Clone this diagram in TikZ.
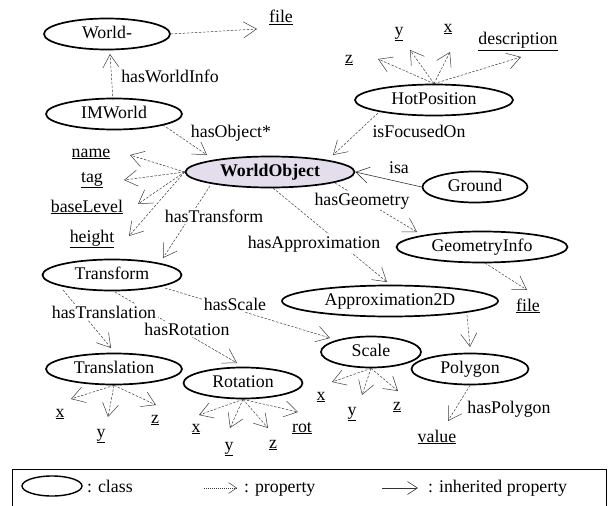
\documentclass[tikz,border=0pt]{standalone}
\usepackage{fontspec}
\setmainfont{Liberation Serif}
\usetikzlibrary{shapes.geometric,arrows.meta}
\definecolor{objfill}{RGB}{228,222,236}
\definecolor{propgray}{RGB}{60,60,60}
\newcommand{\dfont}{\fontsize{17.8}{20}\selectfont}
\begin{document}
\begin{tikzpicture}[x=1pt,y=-1pt,
  every node/.style={font=\dfont},
  cls/.style={draw, ellipse, line width=1.7pt, inner sep=0pt,
              text height=12pt, text depth=4pt, minimum height=31pt},
  leaf/.style={anchor=base, inner sep=1pt},
  lbl/.style={anchor=base, fill=white, inner sep=1.5pt},
  prop/.style={draw=propgray, line width=0.5pt, dash pattern=on 2.5pt off 1.5pt,
               -{Straight Barb[length=13pt,width=16pt]}},
  inh/.style={draw=black!80, line width=0.6pt,
              -{Straight Barb[length=13pt,width=16pt]}},
  legtxt/.style={anchor=base west, inner sep=0pt}
]
\useasboundingbox (0,0) rectangle (611,506);

% ---------- classes ----------
\node[cls, minimum width=126pt] (world) at (107,34) {World-};
\node[cls, minimum width=136pt] (imw) at (114,114) {IMWorld};
\node[cls, minimum width=169pt, fill=objfill,
      font=\dfont\bfseries] (wo) at (270,172) {WorldObject};
\node[cls, minimum width=158pt] (hp) at (434,100) {HotPosition};
\node[cls, minimum width=105pt] (ground) at (475,187) {Ground};
\node[cls, minimum width=171pt] (geo) at (482,247) {GeometryInfo};
\node[cls, minimum width=216pt] (approx) at (390,301) {Approximation2D};
\node[cls, minimum width=139pt] (transform) at (112,275) {Transform};
\node[cls, minimum width=136pt] (transl) at (114,369) {Translation};
\node[cls, minimum width=119pt] (rot) at (243,383) {Rotation};
\node[cls, minimum width=100pt] (scale) at (371,352) {Scale};
\node[cls, minimum width=117pt] (poly) at (470,369) {Polygon};

% ---------- literal properties ----------
\node[leaf] (file1) at (281,23) {\underline{file}};
\node[leaf] (hpz) at (349,63) {\underline{z}};
\node[leaf] (hpy) at (399,35) {\underline{y}};
\node[leaf] (hpx) at (448,32) {\underline{x}};
\node[leaf] (desc) at (518,45) {\underline{description}};
\node[leaf] (name) at (91,157) {\underline{name}};
\node[leaf] (tag) at (92,182) {\underline{tag}};
\node[leaf] (base) at (87,212) {\underline{baseLevel}};
\node[leaf] (height) at (92,242) {\underline{height}};
\node[leaf] (file2) at (528,311) {\underline{file}};
\node[leaf] (tx) at (60,417) {\underline{x}};
\node[leaf] (ty) at (101,437) {\underline{y}};
\node[leaf] (tz) at (155,423) {\underline{z}};
\node[leaf] (rx) at (196,432) {\underline{x}};
\node[leaf] (ry) at (229,450) {\underline{y}};
\node[leaf] (rz) at (273,448) {\underline{z}};
\node[leaf] (rrot) at (302,432) {\underline{rot}};
\node[leaf] (sx) at (321,400) {\underline{x}};
\node[leaf] (sy) at (352,415) {\underline{y}};
\node[leaf] (sz) at (397,410) {\underline{z}};
\node[leaf] (value) at (437,442) {\underline{value}};

% ---------- property connectors ----------
\draw[prop] ([shift={(-1,-14)}]imw.center) -- ([shift={(3,20)}]world.center);
\draw[prop] (world.east) -- ([shift={(-24,6)}]file1.base);
\draw[prop] ([shift={(49,11)}]imw.center) -- ([shift={(-63,-17)}]wo.center);
\draw[prop] ([shift={(-56,13)}]hp.center) -- ([shift={(63,-17)}]wo.center);
\draw[prop] (hp.north) -- ([shift={(29,-4)}]hpz.base);
\draw[prop] (hp.north) -- ([shift={(11,15)}]hpy.base);
\draw[prop] (hp.north) -- ([shift={(2,20)}]hpx.base);
\draw[prop] (hp.north) -- ([shift={(3,12)}]desc.base);
\draw[inh]  (ground.west) -- (wo.east);
\draw[prop] ([shift={(65,11)}]wo.center) -- ([shift={(-65,-15)}]geo.center);
\draw[prop] ([shift={(3,16)}]geo.center) -- ([shift={(-1,-21)}]file2.base);
\draw[prop] ([shift={(3,16)}]wo.center) -- ([shift={(-3,-19)}]approx.center);
\draw[prop] ([shift={(-60,14)}]wo.center) -- ([shift={(51,-17)}]transform.center);
\draw[prop] (wo.west) -- ([shift={(39,-2)}]name.base);
\draw[prop] (wo.west) -- ([shift={(32,-2)}]tag.base);
\draw[prop] (wo.west) -- ([shift={(51,-8)}]base.base);
\draw[prop] (wo.west) -- ([shift={(37,-6)}]height.base);
\draw[prop] ([shift={(53,13)}]transform.center) -- ([shift={(-41,-14)}]scale.center);
\draw[prop] ([shift={(-49,15)}]transform.center) -- ([shift={(-3,-21)}]transl.center);
\draw[prop] ([shift={(3,17)}]transform.center) -- ([shift={(-6,-20)}]rot.center);
\draw[prop] (transl.south) -- ([shift={(11,-18)}]tx.base);
\draw[prop] (transl.south) -- ([shift={(7,-20)}]ty.base);
\draw[prop] (transl.south) -- ([shift={(1,-18)}]tz.base);
\draw[prop] (rot.south) -- ([shift={(3,-17)}]rx.base);
\draw[prop] (rot.south) -- ([shift={(1,-22)}]ry.base);
\draw[prop] (rot.south) -- ([shift={(-5,-20)}]rz.base);
\draw[prop] (rot.south) -- ([shift={(-4,-20)}]rrot.base);
\draw[prop] (scale.south) -- ([shift={(11,-18)}]sx.base);
\draw[prop] (scale.south) -- ([shift={(10,-20)}]sy.base);
\draw[prop] (scale.south) -- ([shift={(1,-19)}]sz.base);
\draw[prop] ([shift={(77,14)}]approx.center) -- ([shift={(0,-22)}]poly.center);
\draw[prop] (poly.south) -- ([shift={(11,-21)}]value.base);

% ---------- connector labels ----------
\node[lbl] (l1) at (170,82) {hasWorldInfo};
\node[lbl] (l2) at (231,137) {hasObject*};
\node[lbl] (l3) at (419,137) {isFocusedOn};
\node[lbl] (l4) at (399,173) {isa};
\node[lbl] (l5) at (362,205) {hasGeometry};
\node[lbl] (l6) at (314,248) {hasApproximation};
\node[lbl] (l7) at (214,222) {hasTransform};
\node[lbl] (l8) at (235,310) {hasScale};
\node[lbl] (l9) at (104,318) {hasTranslation};
\node[lbl] (l10) at (187,335) {hasRotation};
\node[lbl] (l11) at (509,413) {hasPolygon};

% ---------- legend ----------
\draw[line width=0.8pt] (12,507) -- (12,469) -- (606,469) -- (606,507);
\node[draw, ellipse, line width=1.4pt, inner sep=0pt,
      minimum width=60pt, minimum height=20pt] (legcls) at (52,486) {};
\node[legtxt] (legclst) at (87,492) {: class};
\coordinate (lpa) at (204,488);
\coordinate (lpb) at (237,488);
\draw[draw=propgray, line width=0.5pt, dash pattern=on 1pt off 1pt,
      -{Straight Barb[length=8pt,width=11pt]}] (lpa) -- (lpb);
\node[legtxt] (legpropt) at (244,492) {: property};
\coordinate (lia) at (382,488);
\coordinate (lib) at (418,488);
\draw[draw=black!80, line width=0.6pt,
      -{Straight Barb[length=10pt,width=13pt]}] (lia) -- (lib);
\node[legtxt] (leginht) at (428,492) {: inherited property};
\end{tikzpicture}
\end{document}
